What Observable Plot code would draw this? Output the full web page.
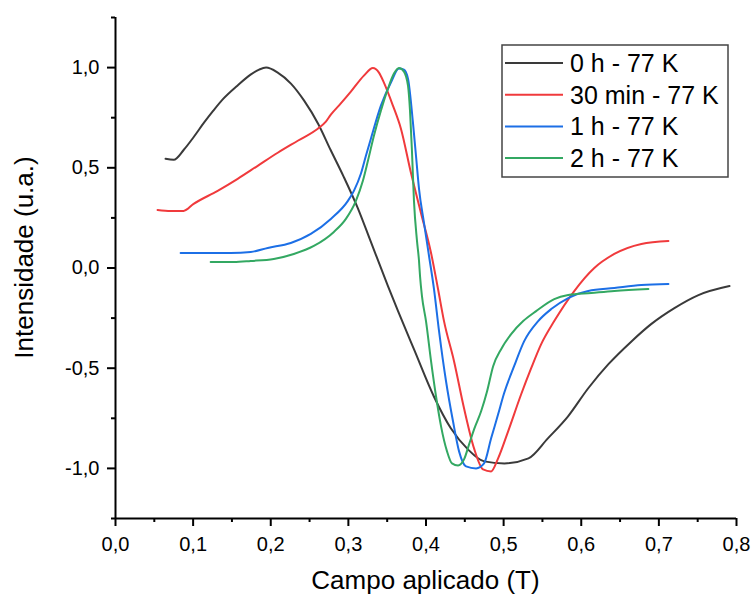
<!DOCTYPE html>
<html>
<head>
<meta charset="utf-8">
<script src="https://cdn.jsdelivr.net/npm/d3@7"></script>
<script src="https://cdn.jsdelivr.net/npm/@observablehq/plot@0.6"></script>
<style>
  html, body { margin: 0; padding: 0; background: #fff; }
  #chart { width: 752px; height: 595px; }
</style>
</head>
<body>
<div id="chart"></div>
<script>
// ---- Data ----
const seriesNames = ["0 h - 77 K", "30 min - 77 K", "1 h - 77 K", "2 h - 77 K"];
const seriesColors = ["#3a3a3a", "#f03a3c", "#1c6fe6", "#33a862"];

const x0h = [0.0645,0.075,0.088,0.101,0.114,0.126,0.139,0.157,0.174,0.185,0.194,0.209,0.226,0.243,0.261,0.277,0.294,0.312,0.329,0.351,0.364,0.385,0.410,0.432,0.454,0.475,0.501,0.532,0.557,0.583,0.609,0.635,0.665,0.690,0.720,0.751,0.791];
const y0h = [0.545,0.54,0.59,0.655,0.725,0.785,0.845,0.91,0.965,0.99,1.0,0.975,0.92,0.835,0.72,0.59,0.455,0.30,0.13,-0.09,-0.215,-0.41,-0.64,-0.80,-0.905,-0.965,-0.975,-0.95,-0.85,-0.74,-0.60,-0.48,-0.365,-0.28,-0.20,-0.135,-0.09];

const x30m = [0.0542,0.0710,0.0877,0.1006,0.1316,0.1574,0.1832,0.2090,0.2348,0.2606,0.2710,0.2774,0.2900,0.3032,0.3200,0.3316,0.3394,0.3458,0.3574,0.3677,0.3806,0.3935,0.4065,0.4155,0.4232,0.4361,0.4490,0.4619,0.4735,0.4839,0.4929,0.5058,0.5226,0.5355,0.5484,0.5652,0.5910,0.6168,0.6426,0.6774,0.7123];
const y30m = [0.29,0.285,0.285,0.32,0.385,0.445,0.51,0.575,0.635,0.695,0.73,0.765,0.82,0.88,0.96,0.998,0.975,0.925,0.81,0.695,0.475,0.275,0.075,-0.105,-0.265,-0.465,-0.70,-0.90,-1.005,-1.015,-0.95,-0.815,-0.63,-0.50,-0.38,-0.265,-0.115,0.0,0.07,0.12,0.135];

const x1h = [0.0839,0.1097,0.1484,0.1742,0.1961,0.2258,0.2516,0.2774,0.2994,0.3071,0.3161,0.3226,0.3290,0.3419,0.3548,0.3652,0.3716,0.3768,0.3832,0.3871,0.3910,0.3974,0.4039,0.4103,0.4168,0.4258,0.4348,0.4426,0.4516,0.4645,0.4748,0.4839,0.4929,0.5006,0.5135,0.5265,0.5445,0.5613,0.5832,0.6090,0.6426,0.6774,0.7123];
const y1h = [0.075,0.075,0.075,0.08,0.10,0.125,0.17,0.245,0.335,0.385,0.47,0.56,0.645,0.81,0.925,0.995,0.99,0.945,0.725,0.56,0.395,0.225,0.06,-0.105,-0.315,-0.565,-0.765,-0.915,-0.99,-1.0,-0.975,-0.85,-0.73,-0.625,-0.49,-0.365,-0.265,-0.205,-0.15,-0.115,-0.10,-0.085,-0.08];

const x2h = [0.1226,0.1523,0.1742,0.2039,0.2297,0.2555,0.2813,0.2968,0.3097,0.3187,0.3252,0.3329,0.3419,0.3510,0.3587,0.3652,0.3716,0.3768,0.3794,0.3819,0.3845,0.3884,0.3910,0.3923,0.3948,0.4,0.4065,0.4129,0.4194,0.4271,0.4335,0.4413,0.4490,0.4555,0.4619,0.4710,0.4787,0.4865,0.4968,0.5097,0.5252,0.5419,0.5652,0.5832,0.6129,0.6426,0.6865];
const y2h = [0.03,0.03,0.035,0.045,0.07,0.11,0.18,0.245,0.335,0.435,0.535,0.66,0.785,0.895,0.97,0.998,0.98,0.91,0.785,0.585,0.335,0.135,0.035,-0.04,-0.14,-0.265,-0.465,-0.64,-0.79,-0.915,-0.975,-0.985,-0.955,-0.88,-0.805,-0.715,-0.615,-0.49,-0.405,-0.33,-0.265,-0.215,-0.155,-0.135,-0.125,-0.115,-0.105];

const xMajor = [0, 0.1, 0.2, 0.3, 0.4, 0.5, 0.6, 0.7, 0.8];
const xMinor = [0.05, 0.15, 0.25, 0.35, 0.45, 0.55, 0.65, 0.75];
const yMajor = [-1.0, -0.5, 0.0, 0.5, 1.0];
const yMinor = [-1.25, -0.75, -0.25, 0.25, 0.75, 1.25];
const xTitle = "Campo aplicado (T)";
const yTitle = "Intensidade (u.a.)";

// ---- Build table ----
const xs = [x0h, x30m, x1h, x2h];
const ys = [y0h, y30m, y1h, y2h];
const data = seriesNames.flatMap((name, i) => xs[i].map((x, j) => ({series: name, x, y: ys[i][j]})));

const fmt = d => d.toFixed(1).replace(".", ",");
const W = 752, H = 595;
const mL = 115, mR = 16, mT = 17, mB = 77;

const chart = Plot.plot({
  width: W, height: H,
  marginLeft: mL, marginRight: mR, marginTop: mT, marginBottom: mB,
  style: {fontFamily: "'Liberation Sans', Arial, sans-serif", fontSize: "20px", color: "#000", background: "#fff", overflow: "visible"},
  x: {domain: [0, 0.8]},
  y: {domain: [-1.25, 1.25]},
  color: {domain: seriesNames, range: seriesColors},
  marks: [
    Plot.line(data, {x: "x", y: "y", z: "series", stroke: "series", strokeWidth: 2, curve: "monotone-x"}),
    Plot.ruleX([0], {stroke: "#000", strokeWidth: 2}),
    Plot.ruleY([-1.25], {stroke: "#000", strokeWidth: 2}),
    Plot.axisX({ticks: xMajor, tickSize: 8, tickPadding: 10, tickFormat: fmt, strokeWidth: 2, label: null, fontSize: 20}),
    Plot.axisX({ticks: xMinor, tickSize: 4, tickFormat: () => "", strokeWidth: 2, label: null}),
    Plot.axisY({ticks: yMajor, tickSize: 8, tickPadding: 8, tickFormat: fmt, strokeWidth: 2, label: null, fontSize: 20}),
    Plot.axisY({ticks: yMinor, tickSize: 4, tickFormat: () => "", strokeWidth: 2, label: null})
  ]
});
document.getElementById("chart").appendChild(chart);

const svg = d3.select(chart);
// make axis ticks bold like the reference
svg.selectAll('g[aria-label="x-axis tick"], g[aria-label="y-axis tick"]')
  .attr("stroke-width", 2).attr("stroke", "#000");

// ---- Titles and legend ----
const font = "'Liberation Sans', Arial, sans-serif";
svg.append("text")
  .attr("x", (mL + W - mR) / 2).attr("y", 589)
  .attr("text-anchor", "middle").attr("font-family", font).attr("font-size", 26).attr("fill", "#000")
  .text(xTitle);
svg.append("text")
  .attr("transform", `translate(33, ${(mT + H - mB) / 2 - 10}) rotate(-90)`)
  .attr("text-anchor", "middle").attr("font-family", font).attr("font-size", 26).attr("fill", "#000")
  .text(yTitle);

const lg = svg.append("g");
lg.append("rect").attr("x", 502).attr("y", 45).attr("width", 226).attr("height", 132)
  .attr("fill", "#fff").attr("stroke", "#444").attr("stroke-width", 1.5);
seriesNames.forEach((name, i) => {
  const cy = 63 + i * 31.7;
  lg.append("line").attr("x1", 505).attr("x2", 563).attr("y1", cy).attr("y2", cy)
    .attr("stroke", seriesColors[i]).attr("stroke-width", 2);
  lg.append("text").attr("x", 570).attr("y", cy).attr("dy", "0.36em")
    .attr("text-anchor", "start")
    .attr("font-family", font).attr("font-size", 25).attr("fill", "#000").text(name);
});
</script>
</body>
</html>
